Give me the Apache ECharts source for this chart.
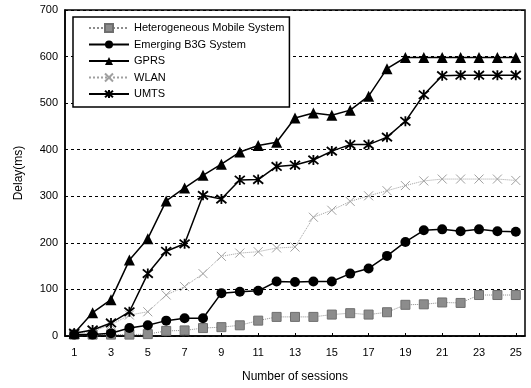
<!DOCTYPE html>
<html>
<head>
<meta charset="utf-8">
<script src="https://cdn.jsdelivr.net/npm/echarts@6/dist/echarts.min.js"></script>
<style>
html,body{margin:0;padding:0;background:#fff;}
#chart{width:531px;height:388px;}
</style>
</head>
<body>
<div id="chart"></div>
<script>
var sessions = ['1','2','3','4','5','6','7','8','9','10','11','12','13','14','15','16','17','18','19','20','21','22','23','24','25'];
var seriesNames = ['Heterogeneous Mobile System','Emerging B3G System','GPRS','WLAN','UMTS'];
var hetero = [3,3,3,3,4,11,12,17,19,23,33,41,41,41,46,49,46,51,67,68,72,71,88,88,88];
var b3g = [3,3,6,17,23,33,38,38,92,95,97,117,116,117,117,134,145,172,202,227,229,225,229,225,224];
var gprs = [6,50,78,163,209,290,318,345,369,395,409,416,468,479,474,485,515,574,598,598,598,598,598,598,598];
var wlan = [6,10,24,45,52,88,106,134,171,178,181,189,191,255,270,289,301,312,323,333,337,337,337,337,334];
var umts = [6,13,28,52,134,182,198,302,294,335,336,364,367,378,397,411,411,427,461,518,559,560,560,560,560];
var yTicks = [0,100,200,300,400,500,600,700];

var FONT = 'Liberation Sans';
var xMark = 'path://M0,0L10,10M10,0L0,10';
var starMark = 'path://M0,0L10,10M10,0L0,10M5,-1L5,11';

var chart = echarts.init(document.getElementById('chart'));
chart.setOption({
  animation: false,
  backgroundColor: '#fff',
  textStyle: {fontFamily: FONT, color: '#000'},
  grid: {left: 65, right: 6, top: 10, bottom: 50, show: true, borderColor: '#000', borderWidth: 1.5, backgroundColor: 'transparent'},
  legend: {
    orient: 'vertical', left: 73, top: 17,
    padding: [5, 5, 7, 15],
    backgroundColor: '#fff', borderColor: '#000', borderWidth: 1.5,
    itemWidth: 40, itemHeight: 10, itemGap: 4.5,
    textStyle: {fontFamily: FONT, fontSize: 11, color: '#000', lineHeight: 12},
    data: seriesNames
  },
  xAxis: {
    type: 'category', data: sessions, boundaryGap: true,
    name: 'Number of sessions', nameLocation: 'middle', nameGap: 35,
    nameTextStyle: {fontFamily: FONT, fontSize: 12, color: '#000'},
    axisLine: {lineStyle: {color: '#000', width: 1.5}},
    axisTick: {show: true, inside: true, length: 3, alignWithLabel: true, lineStyle: {color: '#000'}},
    axisLabel: {interval: 1, margin: 11, fontFamily: FONT, fontSize: 11, color: '#000'},
    splitLine: {show: false}
  },
  yAxis: {
    type: 'value', min: yTicks[0], max: yTicks[yTicks.length-1], interval: 100,
    name: 'Delay(ms)', nameLocation: 'middle', nameGap: 40,
    nameTextStyle: {fontFamily: FONT, fontSize: 12, color: '#000'},
    axisLine: {show: true, lineStyle: {color: '#000', width: 1.5}},
    axisTick: {show: false},
    axisLabel: {margin: 7, fontFamily: FONT, fontSize: 11, color: '#000'},
    splitLine: {show: true, lineStyle: {color: '#000', type: [3, 3], width: 1}}
  },
  series: [
    {name: seriesNames[0], type: 'line', data: hetero, z: 3,
     symbol: 'rect', symbolSize: 9,
     lineStyle: {color: '#8c8c8c', width: 1, type: 'dotted'},
     itemStyle: {color: '#8c8c8c', borderColor: '#6e6e6e', borderWidth: 1}},
    {name: seriesNames[1], type: 'line', data: b3g, z: 4,
     symbol: 'circle', symbolSize: 10,
     lineStyle: {color: '#000', width: 1.5},
     itemStyle: {color: '#000'}},
    {name: seriesNames[2], type: 'line', data: gprs, z: 4,
     symbol: 'triangle', symbolSize: 11,
     lineStyle: {color: '#000', width: 1.5},
     itemStyle: {color: '#000'}},
    {name: seriesNames[3], type: 'line', data: wlan, z: 2,
     symbol: xMark, symbolSize: 9,
     lineStyle: {color: '#a0a0a0', width: 1, type: 'dotted'},
     itemStyle: {color: 'rgba(0,0,0,0)', borderColor: '#a0a0a0', borderWidth: 1}},
    {name: seriesNames[4], type: 'line', data: umts, z: 4,
     symbol: starMark, symbolSize: 10,
     lineStyle: {color: '#000', width: 1.5},
     itemStyle: {color: 'rgba(0,0,0,0)', borderColor: '#000', borderWidth: 1.8}}
  ]
});
</script>
</body>
</html>
